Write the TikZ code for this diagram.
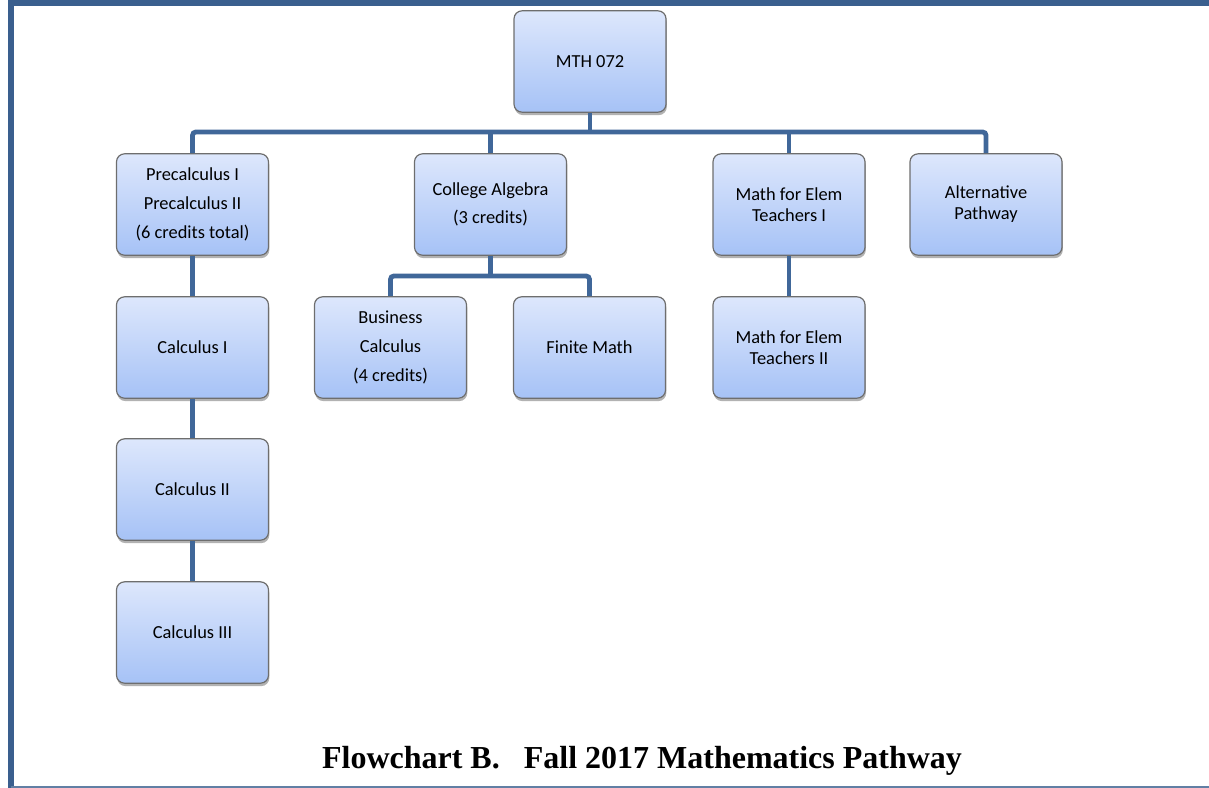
\documentclass[tikz,border=0pt]{standalone}
\usepackage{fontspec}
\setmainfont{Liberation Serif}
\newfontfamily\boxfont{Carlito}
\usepackage{tikz}
\usetikzlibrary{shadows,positioning}
\definecolor{pwframe}{HTML}{3A5F8E}
\definecolor{pwline}{HTML}{406799}
\definecolor{pwedge}{HTML}{6E6E6E}
\definecolor{pwtop}{HTML}{DDE7FC}
\definecolor{pwbot}{HTML}{A6C2F6}

\begin{document}
\begin{tikzpicture}[x=0.75pt,y=-0.75pt,
  box/.style={draw=pwedge,line width=0.9pt,rounded corners=6pt,top color=pwtop,bottom color=pwbot,
    minimum width=114pt,minimum height=76pt,align=center,font=\boxfont\fontsize{13.8}{21.5}\selectfont,
    drop shadow={shadow xshift=0.6pt,shadow yshift=-2.2pt,opacity=0.3,fill=black}},
  tight/.style={font=\boxfont\fontsize{13.8}{15.8}\selectfont},
  conn/.style={pwline,line width=3.6pt,rounded corners=2.5pt}]
  \useasboundingbox (0,0) rectangle (1209,788);
  % frame
  \draw[pwframe,line width=4.5pt] (10.5,788) -- (10.5,3) -- (1209,3);
  \draw[pwframe!80,line width=1.5pt] (10.5,787) -- (1209,787);
  % boxes
  \node[box] (mth) at (590,61.5) {MTH 072};
  \node[box] (pre) at (192.5,204.5) {Precalculus I\\Precalculus II\\(6 credits total)};
  \node[box] (alg) at (490.5,204.5) {College Algebra\\(3 credits)};
  \node[box,tight] (elemi) at (789,204.5) {Math for Elem\\Teachers I};
  \node[box,tight] (alt) at (986,204.5) {Alternative\\Pathway};
  \node[box] (calci) at (192.5,347.5) {Calculus I};
  \node[box] (bus) at (390.5,347.5) {Business\\Calculus\\(4 credits)};
  \node[box] (fin) at (589.5,347.5) {Finite Math};
  \node[box,tight] (elemii) at (789,347.5) {Math for Elem\\Teachers II};
  \node[box] (calcii) at (192.5,489.5) {Calculus II};
  \node[box] (calciii) at (192.5,632.5) {Calculus III};
  % connectors
  \coordinate (hub) at (590,132);
  \coordinate (hubalg) at (490.5,276);
  \draw[conn] (mth.south) -- (hub);
  \draw[conn] (pre.north) |- (hub) -| (alt.north);
  \draw[conn] (alg.north) -- (alg.north |- hub);
  \draw[conn] (elemi.north) -- (elemi.north |- hub);
  \draw[conn] (alg.south) -- (hubalg);
  \draw[conn] (bus.north) |- (hubalg) -| (fin.north);
  \draw[conn] (pre.south) -- (calci.north);
  \draw[conn] (calci.south) -- (calcii.north);
  \draw[conn] (calcii.south) -- (calciii.north);
  \draw[conn] (elemi.south) -- (elemii.north);
  % title
  \node[font=\bfseries\fontsize{24}{27}\selectfont] (title) at (642,761) {Flowchart B.~~~Fall 2017 Mathematics Pathway};
\end{tikzpicture}
\end{document}
